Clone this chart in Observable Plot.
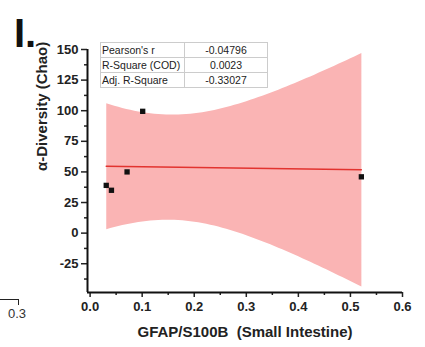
<!DOCTYPE html>
<html>
<head>
<meta charset="utf-8">
<script src="https://cdn.jsdelivr.net/npm/d3@7"></script>
<script src="https://cdn.jsdelivr.net/npm/@observablehq/plot@0.6"></script>
<style>
  html, body { margin: 0; padding: 0; background: #fff; }
  #wrap { position: relative; width: 425px; height: 347px; font-family: Arial, "Liberation Sans", sans-serif; }
  #panel { position: absolute; left: 14px; top: 13px; font-size: 40px; font-weight: bold; line-height: 1; color: #111; }
  #stats { position: absolute; left: 100px; top: 42px; border-collapse: collapse; border: 1.5px solid #666; font-size: 10.5px; color: #222; background: #fff; }
  #stats td { border: 1px solid #ccc; padding: 0 1px; height: 14px; line-height: 13px; white-space: nowrap; }
  #stats td:first-child { width: 81px; }
  #stats td:last-child { width: 80px; text-align: center; }
  #bracket { position: absolute; left: 0; top: 299px; width: 18px; height: 5px; border-top: 1.5px solid #222; border-right: 1.5px solid #222; }
  #frag { position: absolute; left: 8px; top: 306px; font-size: 13px; color: #333; }
</style>
</head>
<body>
<div id="wrap">
  <div id="chart"></div>
  <div id="panel">I.</div>
  <table id="stats"></table>
  <div id="bracket"></div>
  <div id="frag">0.3</div>
</div>
<script>
// Data
const gfap = [0.031, 0.041, 0.071, 0.101, 0.521];
const chao = [39, 35, 50, 99.5, 46];
const statNames = ["Pearson's r", "R-Square (COD)", "Adj. R-Square"];
const statValues = ["-0.04796", "0.0023", "-0.33027"];
const yTicks = [-25, 0, 25, 50, 75, 100, 125, 150];
const yMinor = [-37.5, -12.5, 12.5, 37.5, 62.5, 87.5, 112.5, 137.5];
const xTicks = [0, 0.1, 0.2, 0.3, 0.4, 0.5, 0.6];
const xMinor = [0.05, 0.15, 0.25, 0.35, 0.45, 0.55];
const xDomain = [-0.005, 0.6];
const yDomain = [-48.5, 150];

const data = gfap.map((g, i) => ({gfap: g, chao: chao[i]}));

const font = "Arial, 'Liberation Sans', sans-serif";

const chart = Plot.plot({
  width: 425,
  height: 347,
  marginLeft: 87,
  marginRight: 23,
  marginTop: 49,
  marginBottom: 55,
  style: {fontFamily: font, fontSize: "13px", fontWeight: "bold", color: "#222", background: "#fff"},
  x: {domain: xDomain},
  y: {domain: yDomain},
  marks: [
    Plot.linearRegressionY(data, {x: "gfap", y: "chao", ci: 0.95, stroke: "#e2332f", strokeWidth: 1.5, fill: "#fab4b4", fillOpacity: 1}),
    Plot.dot(data, {x: "gfap", y: "chao", symbol: "square", r: 3, fill: "#111", stroke: "none"}),
    Plot.axisY({ticks: yTicks, tickSize: 6, tickPadding: 3, tickFormat: d => String(d), label: null, strokeWidth: 1.5}),
    Plot.axisY({ticks: yMinor, tickSize: 3, tickFormat: () => "", label: null, strokeWidth: 1.5}),
    Plot.axisX({ticks: xTicks, tickSize: 5, tickPadding: 4, tickFormat: d3.format(".1f"), label: null, strokeWidth: 1.5}),
    Plot.axisX({ticks: xMinor, tickSize: 3, tickFormat: () => "", label: null, strokeWidth: 1.5}),
    Plot.ruleX([xDomain[0]], {stroke: "#111", strokeWidth: 2}),
    Plot.ruleY([yDomain[0]], {stroke: "#111", strokeWidth: 2}),
    Plot.text(["GFAP/S100B  (Small Intestine)"], {frameAnchor: "bottom", dy: 44, fontSize: 15, fontWeight: "bold", fill: "#222"}),
    Plot.text(["α-Diversity (Chao)"], {frameAnchor: "left", dx: -45, rotate: -90, fontSize: 15, fontWeight: "bold", fill: "#222"})
  ]
});
document.getElementById("chart").appendChild(chart);

const table = document.getElementById("stats");
statNames.forEach((n, i) => {
  const tr = document.createElement("tr");
  const a = document.createElement("td"); a.textContent = n;
  const b = document.createElement("td"); b.textContent = statValues[i];
  tr.appendChild(a); tr.appendChild(b); table.appendChild(tr);
});
</script>
</body>
</html>
